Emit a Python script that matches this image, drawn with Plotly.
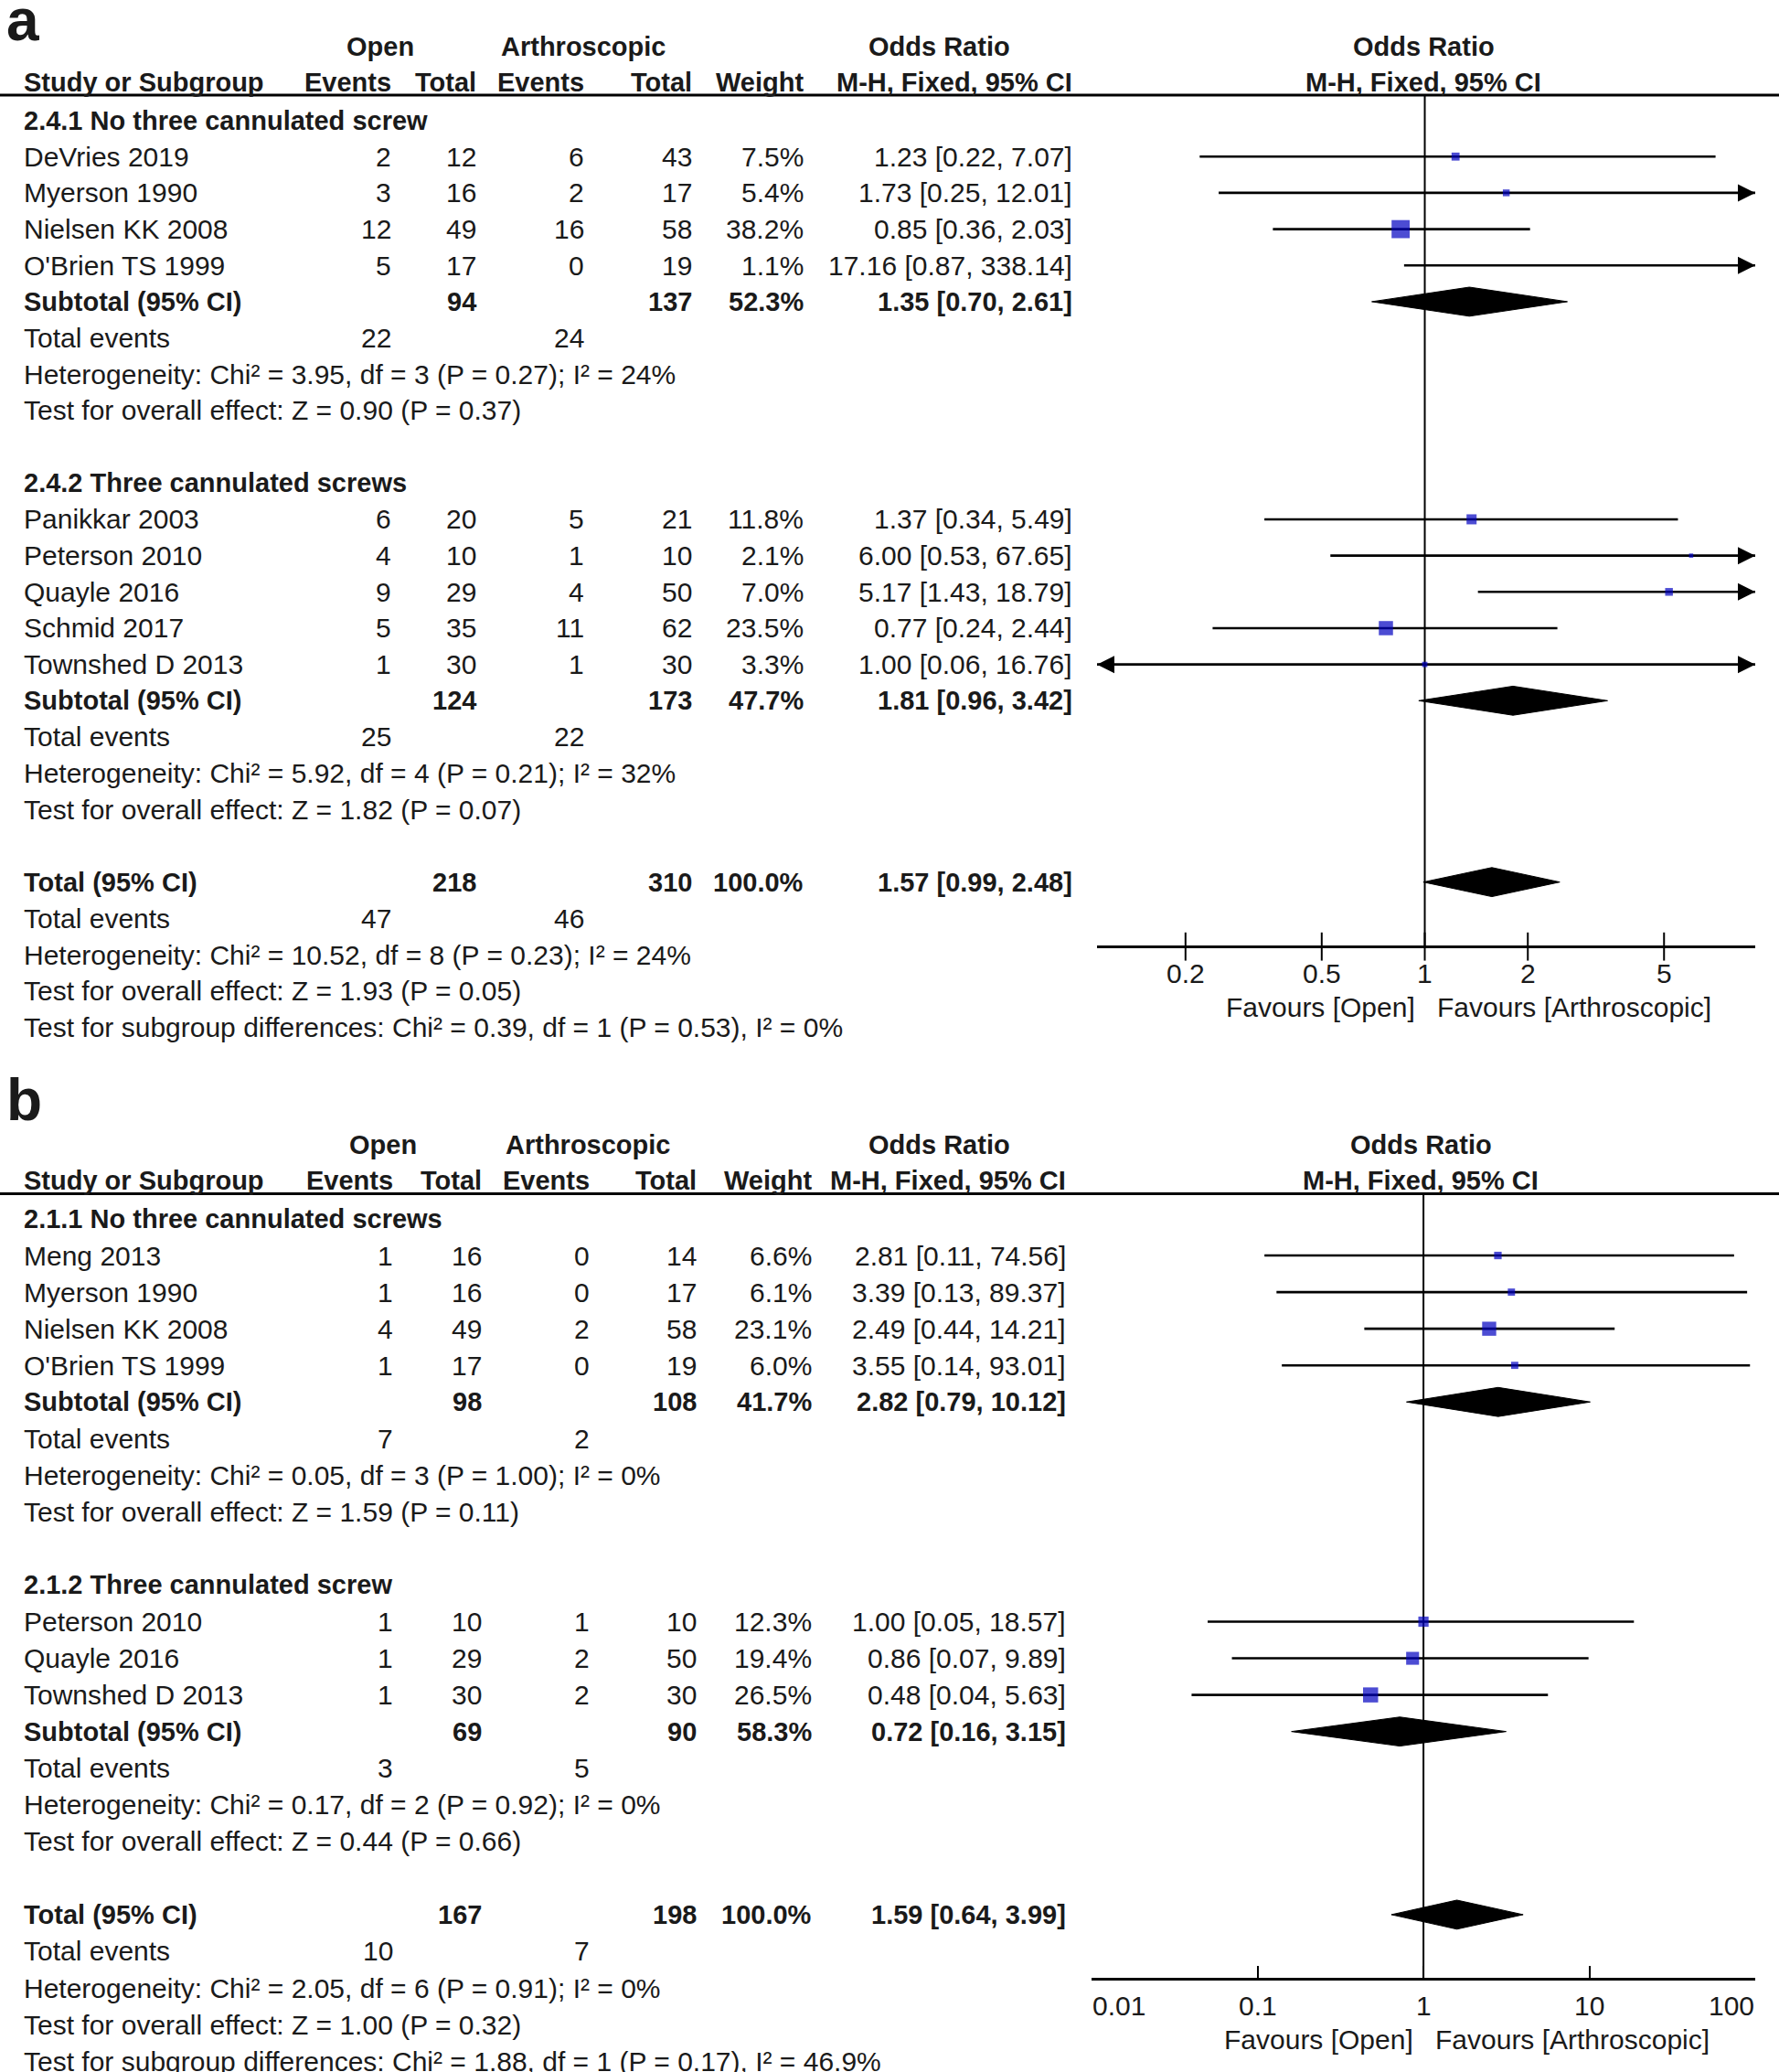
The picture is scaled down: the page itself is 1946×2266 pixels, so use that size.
import math

import plotly.graph_objects as go

# ---------------- panel a ----------------
A_GROUPS = ["2.4.1 No three cannulated screw", "2.4.2 Three cannulated screws"]
A_STUDIES = ["DeVries 2019", "Myerson 1990", "Nielsen KK 2008", "O'Brien TS 1999",
             "Panikkar 2003", "Peterson 2010", "Quayle 2016", "Schmid 2017", "Townshed D 2013"]
A_GROUP_OF = [0, 0, 0, 0, 1, 1, 1, 1, 1]
A_OPEN_EV = [2, 3, 12, 5, 6, 4, 9, 5, 1]
A_OPEN_N = [12, 16, 49, 17, 20, 10, 29, 35, 30]
A_ARTH_EV = [6, 2, 16, 0, 5, 1, 4, 11, 1]
A_ARTH_N = [43, 17, 58, 19, 21, 10, 50, 62, 30]
A_WEIGHT = [7.5, 5.4, 38.2, 1.1, 11.8, 2.1, 7.0, 23.5, 3.3]
A_OR = [1.23, 1.73, 0.85, 17.16, 1.37, 6.00, 5.17, 0.77, 1.00]
A_LO = [0.22, 0.25, 0.36, 0.87, 0.34, 0.53, 1.43, 0.24, 0.06]
A_HI = [7.07, 12.01, 2.03, 338.14, 5.49, 67.65, 18.79, 2.44, 16.76]

A_SUB_OPEN_N = [94, 124]
A_SUB_ARTH_N = [137, 173]
A_SUB_WEIGHT = [52.3, 47.7]
A_SUB_OR = [1.35, 1.81]
A_SUB_LO = [0.70, 0.96]
A_SUB_HI = [2.61, 3.42]
A_SUB_OPEN_EV = [22, 25]
A_SUB_ARTH_EV = [24, 22]
A_SUB_HET = ["Chi² = 3.95, df = 3 (P = 0.27); I² = 24%",
             "Chi² = 5.92, df = 4 (P = 0.21); I² = 32%"]
A_SUB_Z = ["Z = 0.90 (P = 0.37)", "Z = 1.82 (P = 0.07)"]

A_TOT = dict(open_n=218, arth_n=310, weight=100.0, or_=1.57, lo=0.99, hi=2.48,
             open_ev=47, arth_ev=46,
             het="Chi² = 10.52, df = 8 (P = 0.23); I² = 24%",
             z="Z = 1.93 (P = 0.05)",
             diff="Chi² = 0.39, df = 1 (P = 0.53), I² = 0%")
A_TICKS = [0.2, 0.5, 1, 2, 5]
A_TICKTEXT = ["0.2", "0.5", "1", "2", "5"]

# ---------------- panel b ----------------
B_GROUPS = ["2.1.1 No three cannulated screws", "2.1.2 Three cannulated screw"]
B_STUDIES = ["Meng 2013", "Myerson 1990", "Nielsen KK 2008", "O'Brien TS 1999",
             "Peterson 2010", "Quayle 2016", "Townshed D 2013"]
B_GROUP_OF = [0, 0, 0, 0, 1, 1, 1]
B_OPEN_EV = [1, 1, 4, 1, 1, 1, 1]
B_OPEN_N = [16, 16, 49, 17, 10, 29, 30]
B_ARTH_EV = [0, 0, 2, 0, 1, 2, 2]
B_ARTH_N = [14, 17, 58, 19, 10, 50, 30]
B_WEIGHT = [6.6, 6.1, 23.1, 6.0, 12.3, 19.4, 26.5]
B_OR = [2.81, 3.39, 2.49, 3.55, 1.00, 0.86, 0.48]
B_LO = [0.11, 0.13, 0.44, 0.14, 0.05, 0.07, 0.04]
B_HI = [74.56, 89.37, 14.21, 93.01, 18.57, 9.89, 5.63]

B_SUB_OPEN_N = [98, 69]
B_SUB_ARTH_N = [108, 90]
B_SUB_WEIGHT = [41.7, 58.3]
B_SUB_OR = [2.82, 0.72]
B_SUB_LO = [0.79, 0.16]
B_SUB_HI = [10.12, 3.15]
B_SUB_OPEN_EV = [7, 3]
B_SUB_ARTH_EV = [2, 5]
B_SUB_HET = ["Chi² = 0.05, df = 3 (P = 1.00); I² = 0%",
             "Chi² = 0.17, df = 2 (P = 0.92); I² = 0%"]
B_SUB_Z = ["Z = 1.59 (P = 0.11)", "Z = 0.44 (P = 0.66)"]

B_TOT = dict(open_n=167, arth_n=198, weight=100.0, or_=1.59, lo=0.64, hi=3.99,
             open_ev=10, arth_ev=7,
             het="Chi² = 2.05, df = 6 (P = 0.91); I² = 0%",
             z="Z = 1.00 (P = 0.32)",
             diff="Chi² = 1.88, df = 1 (P = 0.17), I² = 46.9%")
B_TICKS = [0.01, 0.1, 1, 10, 100]
B_TICKTEXT = ["0.01", "0.1", "1", "10", "100"]

# ---------------- page geometry (units of a 1346 px wide copy) ----------------
W, H = 1946, 2266
REF_W = 1346.0
S = W / REF_W
HD = H / S

FONT = "Liberation Sans, Arial, sans-serif"
FS = 30          # regular text
FS_B = 29        # bold text
INK = "#1a1a1a"
BLUE = "#0000c0"

PANELS = [
    dict(label="a", label_y=15, y0=91, pitch=27.44, xaxis="x2",
         cols=[297, 361, 443, 524, 609, 812], heads=[288, 441, 711, 1077],
         plot=(830, 1328), log_range=(-0.9575, 0.9653), axis_y=716,
         groups=A_GROUPS, studies=A_STUDIES, group_of=A_GROUP_OF,
         open_ev=A_OPEN_EV, open_n=A_OPEN_N, arth_ev=A_ARTH_EV, arth_n=A_ARTH_N,
         weight=A_WEIGHT, or_=A_OR, lo=A_LO, hi=A_HI,
         sub=dict(open_n=A_SUB_OPEN_N, arth_n=A_SUB_ARTH_N, weight=A_SUB_WEIGHT,
                  or_=A_SUB_OR, lo=A_SUB_LO, hi=A_SUB_HI, open_ev=A_SUB_OPEN_EV,
                  arth_ev=A_SUB_ARTH_EV, het=A_SUB_HET, z=A_SUB_Z),
         tot=A_TOT, ticks=A_TICKS, ticktext=A_TICKTEXT, crossing_ticks=True),
    dict(label="b", label_y=832, y0=922, pitch=27.7, xaxis="x3",
         cols=[298, 365, 447, 528, 615, 807], heads=[290, 445, 711, 1075],
         plot=(826, 1328), log_range=(-2, 2), axis_y=1497,
         groups=B_GROUPS, studies=B_STUDIES, group_of=B_GROUP_OF,
         open_ev=B_OPEN_EV, open_n=B_OPEN_N, arth_ev=B_ARTH_EV, arth_n=B_ARTH_N,
         weight=B_WEIGHT, or_=B_OR, lo=B_LO, hi=B_HI,
         sub=dict(open_n=B_SUB_OPEN_N, arth_n=B_SUB_ARTH_N, weight=B_SUB_WEIGHT,
                  or_=B_SUB_OR, lo=B_SUB_LO, hi=B_SUB_HI, open_ev=B_SUB_OPEN_EV,
                  arth_ev=B_SUB_ARTH_EV, het=B_SUB_HET, z=B_SUB_Z),
         tot=B_TOT, ticks=B_TICKS, ticktext=B_TICKTEXT, crossing_ticks=False),
]

STUDY_X = 17
SQUARE_K = 3.2       # marker side in px per sqrt(weight %)
DIAMOND_H = 11       # half height of a pooled diamond

fig = go.Figure()
annotations = []
shapes = []


def text(x, y, s, anchor="left", bold=False, size=None, xref="paper", **kw):
    if size is None:
        size = FS_B if bold else FS
    if bold:
        s = f"<b>{s}</b>"
    if xref == "paper":
        x = x / REF_W
    annotations.append(dict(x=x, y=y, xref=xref, yref="y", text=s, showarrow=False,
                            xanchor=anchor, yanchor="middle", borderpad=0,
                            font=dict(family=FONT, size=size, color=INK), **kw))


def ci_text(o, lo, hi):
    return f"{o:.2f} [{lo:.2f}, {hi:.2f}]"


for p in PANELS:
    y0, pitch = p["y0"], p["pitch"]
    c_ev1, c_n1, c_ev2, c_n2, c_w, c_ci = p["cols"]
    xa = p["xaxis"]
    lo_lim, hi_lim = 10 ** p["log_range"][0], 10 ** p["log_range"][1]

    def row(k):
        return y0 + k * pitch

    # panel letter and column headers
    text(4, p["label_y"], p["label"], bold=True, size=64)
    text(p["heads"][0], y0 - 56, "Open", "center", True)
    text(p["heads"][1], y0 - 56, "Arthroscopic", "center", True)
    text(p["heads"][2], y0 - 56, "Odds Ratio", "center", True)
    text(p["heads"][3], y0 - 56, "Odds Ratio", "center", True)
    hy = y0 - 29
    text(STUDY_X, hy, "Study or Subgroup", bold=True)
    text(c_ev1, hy, "Events", "right", True)
    text(c_n1, hy, "Total", "right", True)
    text(c_ev2, hy, "Events", "right", True)
    text(c_n2, hy, "Total", "right", True)
    text(c_w, hy, "Weight", "right", True)
    text(c_ci, hy, "M-H, Fixed, 95% CI", "right", True)
    text(p["heads"][3], hy, "M-H, Fixed, 95% CI", "center", True)
    line_y = y0 - 19
    shapes.append(dict(type="line", xref="paper", yref="y", x0=0, x1=1,
                       y0=line_y, y1=line_y, line=dict(color="black", width=3)))

    seg_x, seg_y = [], []
    sq_x, sq_y, sq_s = [], [], []
    arr_r, arr_l = [], []
    diamonds = []

    k = 0
    sub = p["sub"]
    for g, gname in enumerate(p["groups"]):
        text(STUDY_X, row(k), gname, bold=True)
        k += 1
        for i, name in enumerate(p["studies"]):
            if p["group_of"][i] != g:
                continue
            y = row(k)
            text(STUDY_X, y, name)
            text(c_ev1, y, str(p["open_ev"][i]), "right")
            text(c_n1, y, str(p["open_n"][i]), "right")
            text(c_ev2, y, str(p["arth_ev"][i]), "right")
            text(c_n2, y, str(p["arth_n"][i]), "right")
            text(c_w, y, f"{p['weight'][i]:.1f}%", "right")
            text(c_ci, y, ci_text(p["or_"][i], p["lo"][i], p["hi"][i]), "right")
            lo = max(p["lo"][i], lo_lim)
            hi = min(p["hi"][i], hi_lim)
            seg_x += [lo, hi, None]
            seg_y += [y, y, None]
            if p["hi"][i] > hi_lim:
                arr_r.append((hi_lim, y))
            if p["lo"][i] < lo_lim:
                arr_l.append((lo_lim, y))
            sq_x.append(p["or_"][i])
            sq_y.append(y)
            sq_s.append(SQUARE_K * p["weight"][i] ** 0.5)
            k += 1
        y = row(k)
        text(STUDY_X, y, "Subtotal (95% CI)", bold=True)
        text(c_n1, y, str(sub["open_n"][g]), "right", True)
        text(c_n2, y, str(sub["arth_n"][g]), "right", True)
        text(c_w, y, f"{sub['weight'][g]:.1f}%", "right", True)
        text(c_ci, y, ci_text(sub["or_"][g], sub["lo"][g], sub["hi"][g]), "right", True)
        diamonds.append((sub["lo"][g], sub["or_"][g], sub["hi"][g], y))
        k += 1
        y = row(k)
        text(STUDY_X, y, "Total events")
        text(c_ev1, y, str(sub["open_ev"][g]), "right")
        text(c_ev2, y, str(sub["arth_ev"][g]), "right")
        k += 1
        text(STUDY_X, row(k), "Heterogeneity: " + sub["het"][g])
        k += 1
        text(STUDY_X, row(k), "Test for overall effect: " + sub["z"][g])
        k += 2

    t = p["tot"]
    y = row(k)
    text(STUDY_X, y, "Total (95% CI)", bold=True)
    text(c_n1, y, str(t["open_n"]), "right", True)
    text(c_n2, y, str(t["arth_n"]), "right", True)
    text(c_w, y, f"{t['weight']:.1f}%", "right", True)
    text(c_ci, y, ci_text(t["or_"], t["lo"], t["hi"]), "right", True)
    diamonds.append((t["lo"], t["or_"], t["hi"], y))
    k += 1
    y = row(k)
    text(STUDY_X, y, "Total events")
    text(c_ev1, y, str(t["open_ev"]), "right")
    text(c_ev2, y, str(t["arth_ev"]), "right")
    text(STUDY_X, row(k + 1), "Heterogeneity: " + t["het"])
    text(STUDY_X, row(k + 2), "Test for overall effect: " + t["z"])
    text(STUDY_X, row(k + 3), "Test for subgroup differences: " + t["diff"])

    # ---- forest plot ----
    fig.add_trace(go.Scatter(x=[1, 1], y=[line_y, p["axis_y"]], mode="lines",
                             line=dict(color="black", width=2), xaxis=xa, yaxis="y",
                             hoverinfo="skip"))
    fig.add_trace(go.Scatter(x=seg_x, y=seg_y, mode="lines", xaxis=xa, yaxis="y",
                             line=dict(color="black", width=2.6), hoverinfo="skip"))
    for lo, o, hi, y in diamonds:
        fig.add_trace(go.Scatter(x=[lo, o, hi, o, lo],
                                 y=[y, y - DIAMOND_H, y, y + DIAMOND_H, y],
                                 mode="lines", fill="toself", fillcolor="black",
                                 line=dict(color="black", width=1), xaxis=xa, yaxis="y",
                                 hoverinfo="skip"))
    fig.add_trace(go.Scatter(x=sq_x, y=sq_y, mode="markers", xaxis=xa, yaxis="y",
                             marker=dict(symbol="square", color=BLUE, size=sq_s,
                                         line=dict(width=0)),
                             hovertemplate="OR %{x}<extra></extra>"))
    if arr_r:
        fig.add_trace(go.Scatter(x=[a[0] for a in arr_r], y=[a[1] for a in arr_r],
                                 mode="markers", xaxis=xa, yaxis="y", cliponaxis=False,
                                 marker=dict(symbol="arrow-right", size=19, color="black"),
                                 hoverinfo="skip"))
    if arr_l:
        fig.add_trace(go.Scatter(x=[a[0] for a in arr_l], y=[a[1] for a in arr_l],
                                 mode="markers", xaxis=xa, yaxis="y", cliponaxis=False,
                                 marker=dict(symbol="arrow-left", size=19, color="black"),
                                 hoverinfo="skip"))
    if p["crossing_ticks"]:
        fig.add_trace(go.Scatter(x=p["ticks"], y=[p["axis_y"]] * len(p["ticks"]),
                                 mode="markers", xaxis=xa, yaxis="y", cliponaxis=False,
                                 marker=dict(symbol="line-ns", size=22,
                                             line=dict(color="black", width=2)),
                                 hoverinfo="skip"))

    # tick labels (edge labels are pulled inside the axis, as RevMan does)
    n_t = len(p["ticks"])
    for j, (tv, tt) in enumerate(zip(p["ticks"], p["ticktext"])):
        anchor = "center"
        if not p["crossing_ticks"] and j == 0:
            anchor = "left"
        elif not p["crossing_ticks"] and j == n_t - 1:
            anchor = "right"
        text(math.log10(tv), p["axis_y"] + 20, tt, anchor, xref=xa)
    text(0, p["axis_y"] + 46, "Favours [Open]", "right", xref=xa, xshift=-10)
    text(0, p["axis_y"] + 46, "Favours [Arthroscopic]", "left", xref=xa, xshift=12)

    pa, pb = p["plot"]
    axis_kw = dict(type="log", range=list(p["log_range"]), domain=[pa / REF_W, pb / REF_W],
                   anchor="free", position=1 - p["axis_y"] / HD, showline=True,
                   linecolor="black", linewidth=2.5, showgrid=False, zeroline=False,
                   showticklabels=False, tickvals=p["ticks"])
    if p["crossing_ticks"]:
        axis_kw.update(ticks="")
    else:
        axis_kw.update(ticks="inside", ticklen=14, tickwidth=2, tickcolor="black")
    fig.layout[xa.replace("x", "xaxis")] = axis_kw

fig.update_layout(
    width=W, height=H,
    margin=dict(l=0, r=0, t=0, b=0),
    paper_bgcolor="white", plot_bgcolor="rgba(0,0,0,0)",
    showlegend=False,
    xaxis=dict(range=[0, REF_W], visible=False, domain=[0, 1]),
    yaxis=dict(range=[HD, 0], visible=False, domain=[0, 1]),
    annotations=annotations,
    shapes=shapes,
)

# the page body carries an 8 px default margin; drop it so the figure sits at 0,0
fig.write_html("out.html", config={"displayModeBar": False},
               post_script="document.body.style.margin='0';")
